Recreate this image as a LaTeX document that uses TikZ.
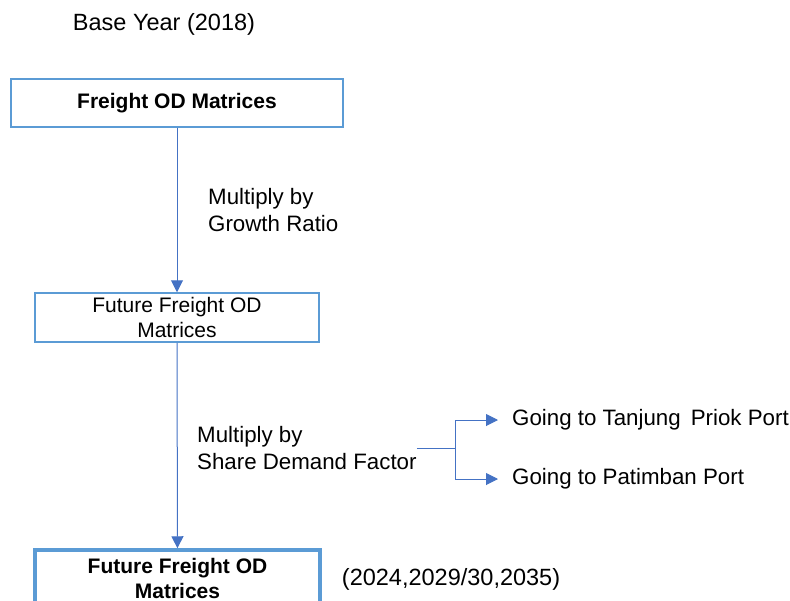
\documentclass[tikz,border=0pt]{standalone}
\usepackage{fontspec}
\setmainfont{Liberation Sans}
\usetikzlibrary{arrows.meta,positioning}
\definecolor{boxblue}{RGB}{91,155,213}
\definecolor{lineblue}{RGB}{68,114,196}
\tikzset{
  odbox/.style={draw=boxblue, line width=1.5pt, align=center, inner sep=0pt,
    font=\fontsize{21}{25}\selectfont},
  flow/.style={draw=lineblue, line width=1pt, -{Triangle[length=12pt,width=12pt]}},
  note/.style={align=left, anchor=west, inner sep=0pt,
    font=\fontsize{22.3}{27.5}\selectfont},
}
\begin{document}
\begin{tikzpicture}[x=1pt, y=-1pt]
\useasboundingbox (0,0) rectangle (790,600);
\clip (0,0) rectangle (790,600);
%
\path (164,24) node[font=\fontsize{23.5}{26}\selectfont] (baseyear) {Base Year (2018)};
%
\node[odbox, minimum width=332pt, minimum height=48pt] (base) at (177,103)
  {\bfseries Freight OD Matrices};
\node[odbox, minimum width=284pt, minimum height=49pt] (future) at (177,317.5)
  {Future Freight OD\\Matrices};
\node[odbox, line width=3.5pt, minimum width=285pt, minimum height=57pt] (final) at (177.5,578.5)
  {\bfseries Future Freight OD\\\bfseries Matrices};
%
\draw [flow] (base) -- (future);
\node[note] (growth) at (208,210) {Multiply by\\Growth Ratio};
\draw [flow] (future) -- (final);
\node[note] (share) at (197,448) {Multiply by\\Share Demand Factor};
%
\coordinate (split) at ([xshift=39pt]share.east);
\node[note] (tanjung) at (512,420) {Going to Tanjung\hspace{0.45em}Priok Port};
\node[note] (patimban) at (512,479) {Going to Patimban Port};
\draw [lineblue, line width=1pt] (share.east) -- (split);
\draw [flow] (split) |- ([xshift=-14pt]tanjung.west);
\draw [flow] (split) |- ([xshift=-14pt]patimban.west);
%
\node[note, right=20pt of final, yshift=-1pt, font=\fontsize{23.5}{26}\selectfont] (years)
  {(2024,2029/30,2035)};
\end{tikzpicture}
\end{document}
